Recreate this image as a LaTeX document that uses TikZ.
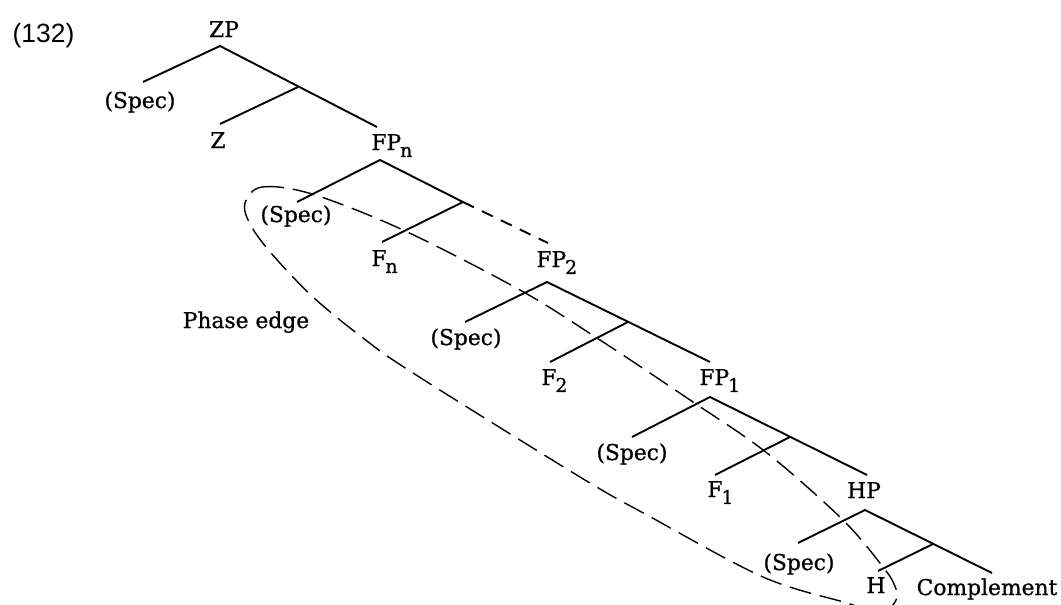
\documentclass[tikz,border=0pt]{standalone}
\usepackage{fontspec}
\setmainfont{DejaVu Serif}[FakeBold=0.8]
\newfontfamily\numfont{Liberation Sans}
\newcommand\sbs[1]{\kern-0.05em\raisebox{-0.32em}{\fontsize{9.5}{10}\selectfont #1}}
\begin{document}
\begin{tikzpicture}[x=0.5pt,y=-0.5pt,
  lbl/.style={font=\fontsize{10.9}{12}\selectfont, inner sep=0pt, anchor=base},
  lblw/.style={lbl, anchor=base west},
  branch/.style={line width=0.95pt},
  dbranch/.style={line width=0.95pt, dash pattern=on 6pt off 4.5pt},
  edgeline/.style={line width=0.7pt, dash pattern=on 11pt off 4.5pt}]
\useasboundingbox (0,0) rectangle (1061,605);

% number
\node[inner sep=0pt, anchor=base, font=\numfont\fontsize{13.2}{15}\selectfont] (num) at (43.5,42) {(132)};

% labels
\node[lbl] (zp) at (224,37) {ZP};
\node[lbl] (spec1) at (140,108) {(Spec)};
\node[lbl] (z) at (218,148) {Z};
\node[lblw] (fpn) at (371,150) {FP\sbs{n}};
\node[lbl] (spec2) at (296,222) {(Spec)};
\node[lblw] (fn) at (371,266) {F\sbs{n}};
\node[lblw] (fp2) at (536,267) {FP\sbs{2}};
\node[lbl] (spec3) at (466,345) {(Spec)};
\node[lblw] (f2) at (541,385) {F\sbs{2}};
\node[lblw] (fp1) at (699,385) {FP\sbs{1}};
\node[lbl] (spec4) at (632,460) {(Spec)};
\node[lblw] (f1) at (707,497) {F\sbs{1}};
\node[lbl] (hp) at (864,498) {HP};
\node[lbl] (spec5) at (799,570) {(Spec)};
\node[lbl] (h) at (876,593) {H};
\node[lbl] (compl) at (987,595) {Complement};
\node[lbl] (phase) at (246,328) {Phase edge};

% tree points
\coordinate (zpA) at (220,46);  \coordinate (zpS) at (143,82);
\coordinate (zpI) at (298,87);  \coordinate (zpZ) at (220,124);
\coordinate (zpF) at (377,127);

\coordinate (fnA) at (380,160); \coordinate (fnS) at (297,202);
\coordinate (fnI) at (463,202); \coordinate (fnH) at (382,242);
\coordinate (fnF) at (548,243);

\coordinate (f2A) at (547,282); \coordinate (f2S) at (465,322);
\coordinate (f2I) at (628,322); \coordinate (f2H) at (550,362);
\coordinate (f2F) at (710,362);

\coordinate (f1A) at (710,397); \coordinate (f1S) at (632,437);
\coordinate (f1I) at (790,437); \coordinate (f1H) at (715,475);
\coordinate (f1F) at (867,475);

\coordinate (hA) at (865,510);  \coordinate (hS) at (798,543);
\coordinate (hI) at (933,544);  \coordinate (hH) at (878,571);
\coordinate (hC) at (992,573);

% branches
\draw[branch] (zpS) -- (zpA) -- (zpF);
\draw[branch] (zpI) -- (zpZ);
\draw[branch] (fnS) -- (fnA) -- (fnI);
\draw[branch] (fnI) -- (fnH);
\draw[dbranch] (fnI) -- (fnF);
\draw[branch] (f2S) -- (f2A) -- (f2F);
\draw[branch] (f2I) -- (f2H);
\draw[branch] (f1S) -- (f1A) -- (f1F);
\draw[branch] (f1I) -- (f1H);
\draw[branch] (hS) -- (hA) -- (hC);
\draw[branch] (hI) -- (hH);

% phase edge loop
\draw[edgeline] plot[smooth cycle, tension=0.55] coordinates {
  (245,203) (262,187) (312,194) (403,230) (520,290) (600,340)
  (693,402) (767,453) (843,520) (883,567) (894,584) (897,597)
  (889,608) (868,610) (847,603) (763,577) (647,515) (580,477)
  (413,373) (363,338) (313,297) (271,253) (250,224)};
\end{tikzpicture}
\end{document}
